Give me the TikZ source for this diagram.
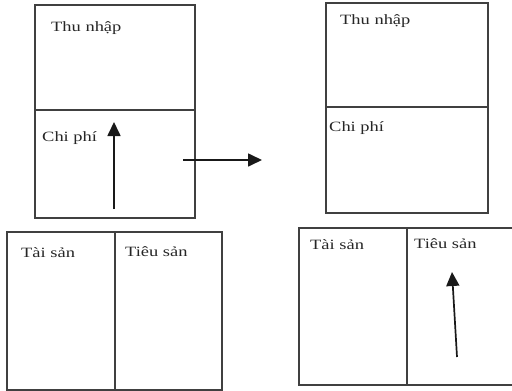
\documentclass[tikz,border=0pt]{standalone}
\usepackage{fontspec}
\setmainfont{Liberation Serif}[FakeStretch=1.3]
\usetikzlibrary{arrows.meta}
\begin{document}
\begin{tikzpicture}[x=1pt,y=-1pt,
  cell/.style={draw=black!75,line width=1.1pt},
  lbl/.style={anchor=base west,inner sep=0pt,text=black!85,font=\fontsize{14.2}{16}\selectfont},
  flow/.style={draw=black!90,line width=1.7pt,-{Triangle[length=14pt,width=13pt]}}]
\useasboundingbox (0,0) rectangle (512,391);
% left account block
\draw[cell] (35,5) rectangle (195,110);
\draw[cell] (35,110) rectangle (195,218);
\draw[cell] (7,232) rectangle (222,390);
\draw[cell] (115,232) -- (115,390);
\node[lbl] (tL) at (51,31) {Thu nhập};
\node[lbl] (cL) at (42,141) {Chi phí};
\node[lbl] (aL) at (21,257) {Tài sản};
\node[lbl] (lL) at (125,256) {Tiêu sản};
% right account block
\draw[cell] (326,3) rectangle (488,107);
\draw[cell] (326,107) rectangle (488,213);
\draw[cell] (299,228) rectangle (514,385);
\draw[cell] (407,228) -- (407,385);
\node[lbl] (tR) at (340,24) {Thu nhập};
\node[lbl] (cR) at (329,131) {Chi phí};
\node[lbl] (aR) at (310,249) {Tài sản};
\node[lbl] (lR) at (414,248) {Tiêu sản};
% arrows
\coordinate (a1s) at (114,209);
\coordinate (a1e) at (114,122);
\coordinate (a2s) at (183,160);
\coordinate (a2e) at (262,160);
\coordinate (a3s) at (457,357);
\coordinate (a3e) at (452,272);
\draw[flow] (a1s) -- (a1e);
\draw[flow] (a2s) -- (a2e);
\draw[flow] (a3s) -- (a3e);
\end{tikzpicture}
\end{document}
